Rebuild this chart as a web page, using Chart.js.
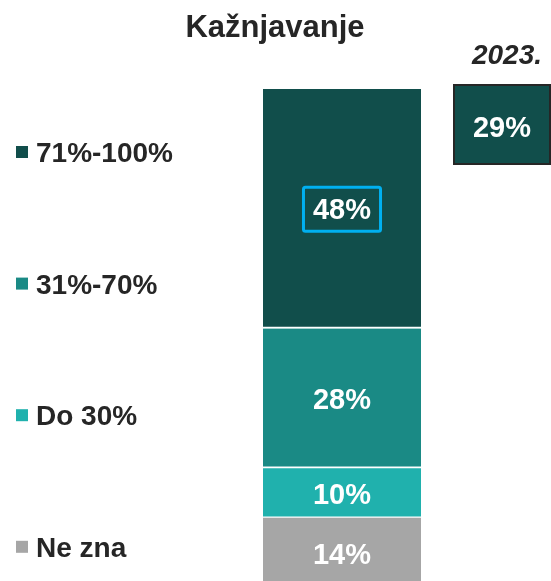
<!DOCTYPE html>
<html>
<head>
<meta charset="utf-8">
<script src="https://cdn.jsdelivr.net/npm/chart.js@4.4.1/dist/chart.umd.min.js"></script>
<style>
  html, body { margin: 0; padding: 0; background: #ffffff; }
  #wrap { position: relative; width: 551px; height: 581px; }
</style>
</head>
<body>
<div id="wrap"><canvas id="c"></canvas></div>
<script>
// ---- Data ----
const chartTitle = 'Kažnjavanje';
const categories = ['2025'];
const seriesLabels = ['Ne zna', 'Do 30%', '31%-70%', '71%-100%'];
const seriesValues = [14, 10, 28, 48];
const seriesColors = ['#a6a6a6', '#20b1ad', '#1a8a85', '#114e4b'];
const previousYearLabel = '2023.';
const previousYearValue = 29;
const highlightSeries = '71%-100%';

const FONT = '"Liberation Sans", Arial, sans-serif';

const datasets = seriesLabels.map((lab, i) => ({
  label: lab,
  data: [seriesValues[i]],
  backgroundColor: seriesColors[i],
  borderColor: '#ffffff',
  borderSkipped: false,
  borderWidth: i === 0 ? 0 : { top: 0, left: 0, right: 0, bottom: 2 },
  barPercentage: 1,
  categoryPercentage: 1
}));

const decorPlugin = {
  id: 'decor',
  afterDatasetsDraw(chart) {
    const ctx = chart.ctx;
    ctx.save();
    chart.data.datasets.forEach((ds, i) => {
      const el = chart.getDatasetMeta(i).data[0];
      const cy = (el.y + el.base) / 2;
      const txt = ds.data[0] + '%';
      ctx.font = 'bold 29px ' + FONT;
      ctx.fillStyle = '#ffffff';
      ctx.textAlign = 'center';
      ctx.textBaseline = 'alphabetic';
      ctx.fillText(txt, el.x, cy + 10.5);
      if (ds.label === highlightSeries) {
        const w = ctx.measureText(txt).width;
        ctx.strokeStyle = '#00b0f0';
        ctx.lineWidth = 3;
        const bx = el.x - w / 2 - 9.5, by = cy - 21.5;
        ctx.beginPath();
        if (ctx.roundRect) ctx.roundRect(bx, by, w + 19, 44, 2); else ctx.rect(bx, by, w + 19, 44);
        ctx.stroke();
      }
    });
    ctx.restore();
  },
  afterDraw(chart) {
    const ctx = chart.ctx;
    ctx.save();
    ctx.textBaseline = 'alphabetic';
    // title
    ctx.font = 'bold 31px ' + FONT;
    ctx.fillStyle = '#262626';
    ctx.textAlign = 'center';
    ctx.fillText(chartTitle, 275, 37);
    // legend (top series first)
    const n = chart.data.datasets.length;
    for (let k = 0; k < n; k++) {
      const i = n - 1 - k;
      const ds = chart.data.datasets[i];
      const base = 162 + k * 131.6;
      ctx.fillStyle = ds.backgroundColor;
      ctx.fillRect(16, base - 16, 12, 12);
      ctx.font = 'bold 28px ' + FONT;
      ctx.fillStyle = '#262626';
      ctx.textAlign = 'left';
      ctx.fillText(ds.label, 36, base);
    }
    // previous year box
    ctx.font = 'italic bold 28px ' + FONT;
    ctx.fillStyle = '#262626';
    ctx.textAlign = 'center';
    ctx.fillText(previousYearLabel, 507, 64);
    ctx.fillStyle = seriesColors[3];
    ctx.fillRect(454, 85, 96, 79);
    ctx.strokeStyle = '#262626';
    ctx.lineWidth = 2;
    ctx.strokeRect(454, 85, 96, 79);
    ctx.font = 'bold 29px ' + FONT;
    ctx.fillStyle = '#ffffff';
    ctx.fillText(previousYearValue + '%', 502, 137);
    ctx.restore();
  }
};

new Chart(document.getElementById('c'), {
  type: 'bar',
  data: { labels: categories, datasets },
  options: {
    responsive: true,
    maintainAspectRatio: false,
    animation: false,
    layout: { padding: { left: 263, right: 130, top: 89, bottom: 0 } },
    plugins: { legend: { display: false }, title: { display: false }, tooltip: { enabled: false } },
    scales: {
      x: { stacked: true, display: false },
      y: { stacked: true, display: false, min: 1.4, max: 100 }
    }
  },
  plugins: [decorPlugin]
});
</script>
</body>
</html>
